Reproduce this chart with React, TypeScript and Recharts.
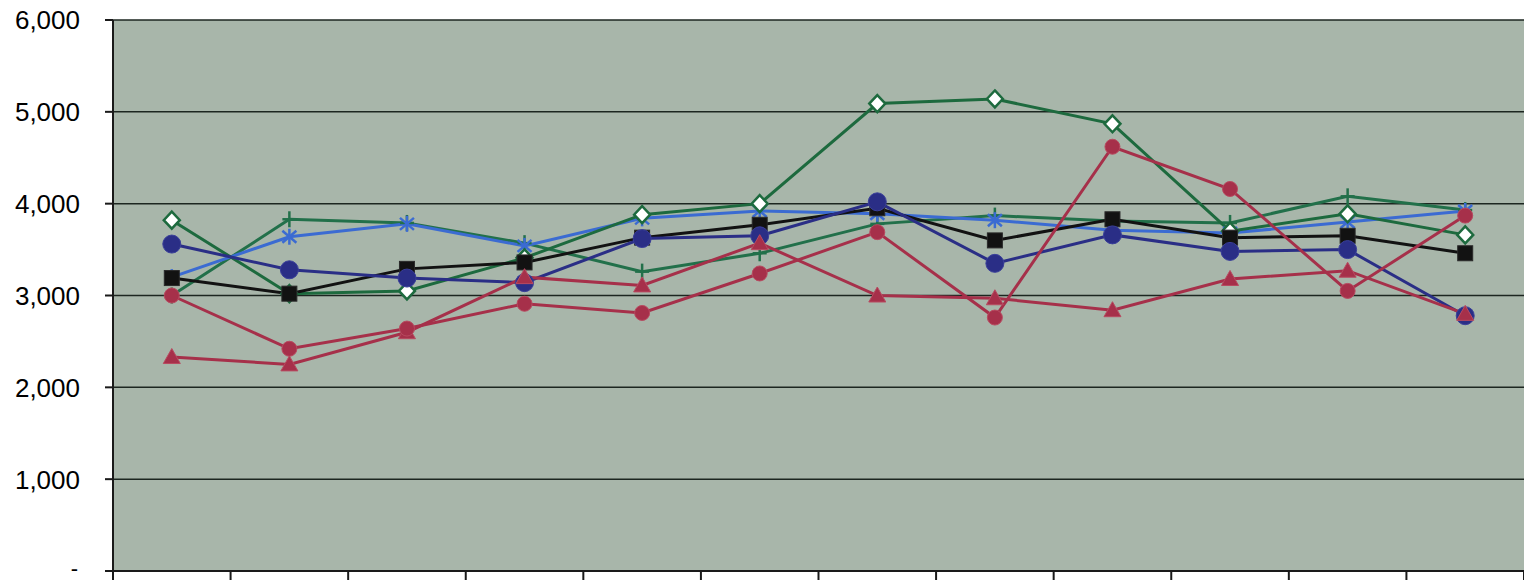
import { CartesianGrid, Line, LineChart, XAxis, YAxis } from "recharts";

const categories = ["1", "2", "3", "4", "5", "6", "7", "8", "9", "10", "11", "12"];
const yTicks = [0, 1000, 2000, 3000, 4000, 5000, 6000];

const greenDiamond = [3820, 3020, 3050, 3410, 3880, 4000, 5090, 5140, 4870, 3700, 3890, 3660];
const blackSquare = [3190, 3020, 3290, 3360, 3630, 3770, 3950, 3600, 3830, 3630, 3650, 3460];
const navyCircle = [3560, 3280, 3190, 3140, 3620, 3650, 4020, 3350, 3660, 3480, 3500, 2780];
const redCircle = [3000, 2420, 2640, 2910, 2810, 3240, 3690, 2760, 4620, 4160, 3050, 3870];
const redTriangle = [2330, 2250, 2600, 3200, 3110, 3570, 3000, 2970, 2840, 3180, 3270, 2800];
const blueStar = [3200, 3640, 3780, 3540, 3840, 3920, 3890, 3820, 3710, 3680, 3800, 3920];
const greenPlus = [3000, 3830, 3790, 3570, 3260, 3460, 3780, 3870, 3810, 3790, 4080, 3930];

const data = categories.map((c, i) => ({
  name: c,
  pos: i + 0.5,
  greenDiamond: greenDiamond[i],
  blackSquare: blackSquare[i],
  navyCircle: navyCircle[i],
  redCircle: redCircle[i],
  redTriangle: redTriangle[i],
  blueStar: blueStar[i],
  greenPlus: greenPlus[i],
}));

const GREEN = "#1d6a3e";
const BLACK = "#121212";
const NAVY = "#2a2e86";
const RED = "#a6304a";
const BLUE = "#3b6bd2";
const GREEN2 = "#22704a";

const diamond = (p: any) => (
  <path
    key={p.index}
    d={`M${p.cx},${p.cy - 8.5} L${p.cx + 8},${p.cy} L${p.cx},${p.cy + 8.5} L${p.cx - 8},${p.cy} Z`}
    fill="#ffffff"
    stroke={GREEN}
    strokeWidth={2.5}
  />
);
const square = (p: any) => (
  <rect key={p.index} x={p.cx - 7.5} y={p.cy - 7.5} width={15} height={15} fill={BLACK} stroke="#2a2a2a" />
);
const navyDot = (p: any) => (
  <circle key={p.index} cx={p.cx} cy={p.cy} r={9} fill={NAVY} stroke="#3a3f9a" />
);
const redDot = (p: any) => (
  <circle key={p.index} cx={p.cx} cy={p.cy} r={7.5} fill={RED} stroke="#b84a60" />
);
const triangle = (p: any) => (
  <path
    key={p.index}
    d={`M${p.cx},${p.cy - 8.5} L${p.cx + 8.5},${p.cy + 6.5} L${p.cx - 8.5},${p.cy + 6.5} Z`}
    fill={RED}
    stroke="#b84a60"
  />
);
const star = (p: any) => (
  <g key={p.index} stroke={BLUE} strokeWidth={2.5}>
    <line x1={p.cx} y1={p.cy - 8} x2={p.cx} y2={p.cy + 8} />
    <line x1={p.cx - 7} y1={p.cy - 6} x2={p.cx + 7} y2={p.cy + 6} />
    <line x1={p.cx - 7} y1={p.cy + 6} x2={p.cx + 7} y2={p.cy - 6} />
  </g>
);
const plus = (p: any) => (
  <g key={p.index} stroke={GREEN2} strokeWidth={2.5}>
    <line x1={p.cx} y1={p.cy - 8} x2={p.cx} y2={p.cy + 8} />
    <line x1={p.cx - 7} y1={p.cy} x2={p.cx + 7} y2={p.cy} />
  </g>
);

const YTick = (props: any) => {
  const { x, y, payload } = props;
  const v = payload.value;
  if (v === 0) {
    return (
      <text
        x={x - 2}
        y={y - 3}
        dy="0.36em"
        textAnchor="end"
        fontFamily="'Liberation Sans', Arial, sans-serif"
        fontSize={22}
        fill="#000"
      >
        -
      </text>
    );
  }
  return (
    <text
      x={x}
      y={y}
      dy="0.36em"
      textAnchor="end"
      fontFamily="'Liberation Sans', Arial, sans-serif"
      fontSize={26}
      fill="#000"
    >
      {v.toLocaleString("en-US")}
    </text>
  );
};

export default function App() {
  return (
    <div style={{ position: "absolute", left: 0, top: 0, background: "#fff" }}>
      <LineChart width={1524} height={584} data={data} margin={{ top: 20, right: 0, bottom: 0, left: 0 }}>
        <CartesianGrid vertical={false} stroke="#1c2620" strokeWidth={1.5} fill="#a8b6aa" fillOpacity={1} />
        <XAxis
          dataKey="pos"
          type="number"
          domain={[0, 12]}
          ticks={[0, 1, 2, 3, 4, 5, 6, 7, 8, 9, 10, 11, 12]}
          tickFormatter={() => ""}
          height={13}
          tickSize={9}
          stroke="#1a1a1a"
          strokeWidth={2}
          allowDataOverflow
        />
        <YAxis
          domain={[0, 6000]}
          ticks={yTicks}
          width={113}
          tickSize={8}
          tickMargin={25}
          tick={<YTick />}
          stroke="#1a1a1a"
          strokeWidth={2}
        />
        <Line dataKey="greenPlus" stroke={GREEN2} strokeWidth={3} dot={plus} isAnimationActive={false} />
        <Line dataKey="blueStar" stroke={BLUE} strokeWidth={3} dot={star} isAnimationActive={false} />
        <Line dataKey="greenDiamond" stroke={GREEN} strokeWidth={3} dot={diamond} isAnimationActive={false} />
        <Line dataKey="blackSquare" stroke={BLACK} strokeWidth={3} dot={square} isAnimationActive={false} />
        <Line dataKey="navyCircle" stroke={NAVY} strokeWidth={3} dot={navyDot} isAnimationActive={false} />
        <Line dataKey="redTriangle" stroke={RED} strokeWidth={3} dot={triangle} isAnimationActive={false} />
        <Line dataKey="redCircle" stroke={RED} strokeWidth={3} dot={redDot} isAnimationActive={false} />
      </LineChart>
    </div>
  );
}
